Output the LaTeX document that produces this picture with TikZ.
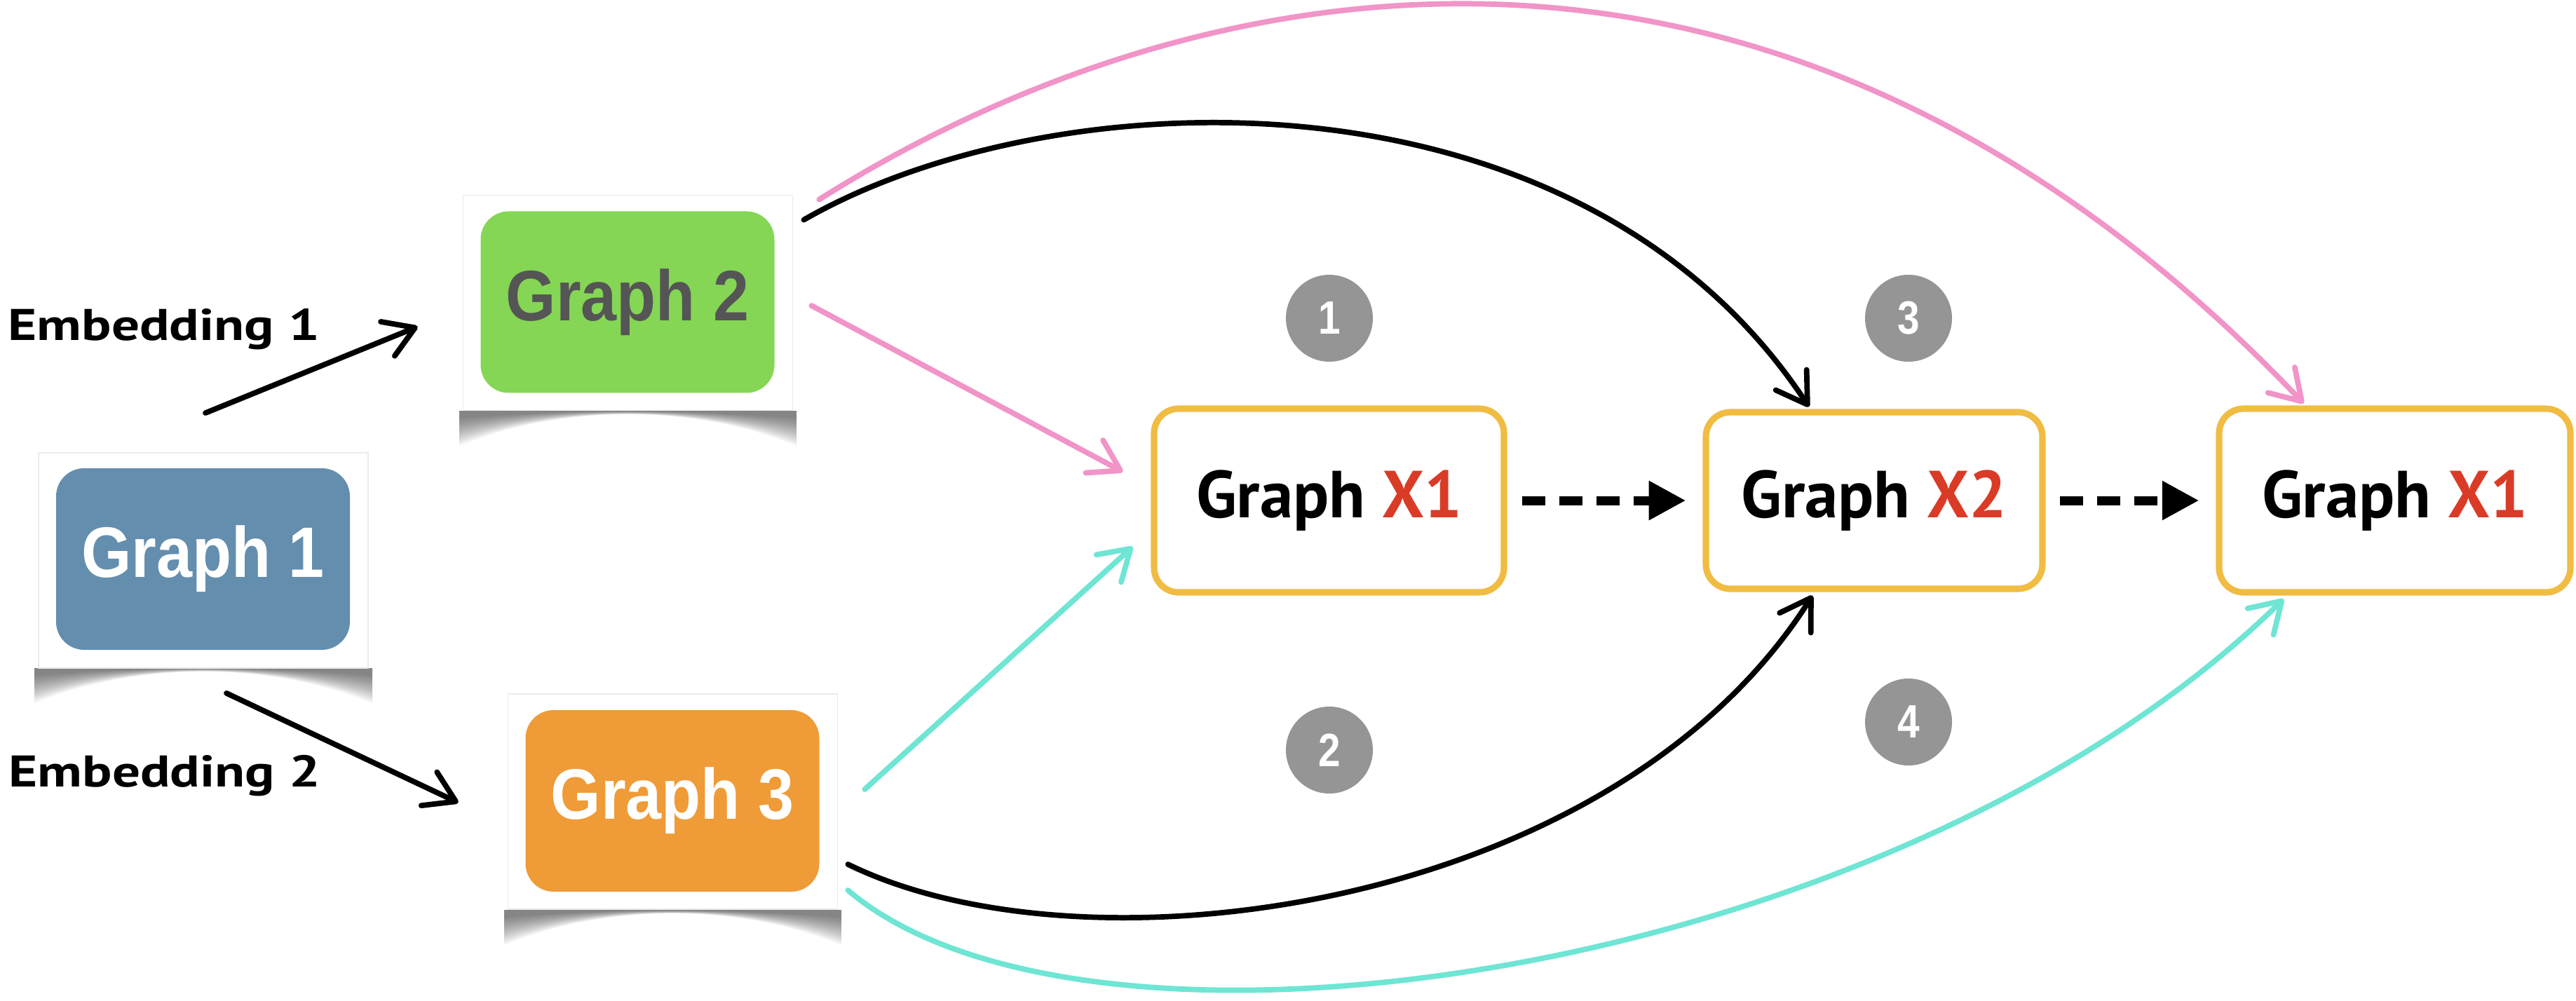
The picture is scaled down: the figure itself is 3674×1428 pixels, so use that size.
\documentclass[tikz,border=0pt]{standalone}
\usepackage{fontspec}
\setmainfont{Liberation Sans}
\newfontfamily\hand{PT Sans}
\usetikzlibrary{arrows.meta,calc}

\definecolor{gblue}{HTML}{648EAE}
\definecolor{ggreen}{HTML}{84D654}
\definecolor{gorange}{HTML}{EF9B38}
\definecolor{boxyellow}{HTML}{F0BC42}
\definecolor{xred}{HTML}{DA3B26}
\definecolor{lpink}{HTML}{F194C8}
\definecolor{lcyan}{HTML}{6FE5D4}
\definecolor{badge}{HTML}{959595}
\definecolor{gtext}{HTML}{555555}

\tikzset{
  card/.style={draw=black!8, line width=0.5pt, fill=white, minimum width=47mm,
    minimum height=30.7mm, inner sep=0pt},
  tile/.style={rounded corners=4mm, minimum width=41.9mm, minimum height=25.9mm,
    inner sep=0pt, font=\bfseries\fontsize{29}{32}\selectfont},
  stage/.style={draw=boxyellow, line width=2.6pt, rounded corners=3.5mm,
    minimum width=49.5mm, minimum height=25.8mm, inner sep=0pt,
    font=\hand\bfseries\fontsize{27}{30}\selectfont},
  badgecirc/.style={circle, fill=badge, minimum size=12.4mm, inner sep=0pt,
    text=white, font=\bfseries\fontsize{19}{21}\selectfont},
  handlabel/.style={anchor=base west, inner sep=0pt,
    font=\hand\bfseries\fontsize{18}{20}\selectfont},
  sketch/.style={line width=2.2pt, line cap=round,
    -{Straight Barb[length=12pt,width=15pt,round]}},
  flow/.style={line width=3.7pt, dash pattern=on 9.4pt off 5.7pt,
    -{Triangle[length=15pt,width=15pt]}},
}

% narrow setting for tile labels and badge digits
\newcommand{\narrow}[2]{\scalebox{#1}[1]{#2}}

% soft lifted-corner shadow under a card: left x, right x, bottom y
\newcommand{\liftshadow}[3]{%
  \foreach \i in {0,...,13}{%
    \pgfmathsetmacro{\d}{50-3*\i}%
    \pgfmathsetmacro{\m}{-10+0.6*\i}%
    \fill[black, opacity=0.045]
      (#1-6,#3) -- (#1-6,#3+\d)
      .. controls ({#1+0.3*(#2-#1)},#3+\m) and ({#2-0.3*(#2-#1)},#3+\m) .. (#2+6,#3+\d)
      -- (#2+6,#3) -- cycle;
  }%
}

\begin{document}
\begin{tikzpicture}[x=0.1mm, y=-0.1mm]
  \useasboundingbox (0,0) rectangle (3674,1428);
  \fill[white] (0,0) rectangle (3674,1428);

  % cards with their shadows
  \liftshadow{55}{525}{953}
  \liftshadow{661}{1130}{586}
  \liftshadow{725}{1194}{1298}

  \node[card] (card1) at (290,799.5) {};
  \node[card] (card2) at (895.5,432) {};
  \node[card] (card3) at (959.5,1143.5) {};

  \node[tile, fill=gblue, text=white] (g1) at (289.5,797.5) {\narrow{0.9}{Graph 1}};
  \node[tile, fill=ggreen, text=gtext] (g2) at (895,431) {\narrow{0.9}{Graph 2}};
  \node[tile, fill=gorange, text=white] (g3) at (959,1142.5) {\narrow{0.9}{Graph 3}};

  % embedding labels and arrows
  \node[handlabel] (e1) at (11,485) {\narrow{1.25}{Embedding 1}};
  \node[handlabel] (e2) at (12,1122) {\narrow{1.25}{Embedding 2}};

  \draw[sketch] ($(card1.north)+(3,-56)$) -- ($(card2.west)+(-64,34)$);
  \draw[sketch] ($(card1.south)+(33,35)$) -- ($(card3.west)+(-70,1.5)$);

  % stage boxes
  \node[stage, minimum width=49.9mm, minimum height=26.2mm] (s1) at (1895.5,714)
    {Graph \textcolor{xred}{X1}};
  \node[stage, minimum width=48mm, minimum height=25.2mm] (s2) at (2673,714)
    {Graph \textcolor{xred}{X2}};
  \node[stage, minimum width=50.1mm, minimum height=26.2mm] (s3) at (3415.5,714)
    {Graph \textcolor{xred}{X1}};

  \draw[flow, shorten <=2.1mm, shorten >=2.4mm] (s1.east) -- (s2.west);
  \draw[flow, shorten <=2.0mm, shorten >=2.4mm] (s2.east) -- (s3.west);

  % numbered badges
  \node[badgecirc] (b1) at (1896,454) {\narrow{0.85}{1}};
  \node[badgecirc] (b2) at (1896,1070) {\narrow{0.85}{2}};
  \node[badgecirc] (b3) at (2722,454) {\narrow{0.85}{3}};
  \node[badgecirc] (b4) at (2722,1030) {\narrow{0.85}{4}};

  % connectors from Graph 2
  \coordinate (p2s) at ($(card2.east)+(26,4)$);
  \coordinate (p2e) at ($(s1.west)+(-40,-41)$);
  \coordinate (k2s) at ($(card2.north east)+(15,36)$);
  \coordinate (k2e) at ($(s2.north)+(-93,-3)$);
  \coordinate (q2s) at ($(card2.north east)+(37,7)$);
  \coordinate (q2e) at ($(s3.north)+(-130,-3)$);

  \draw[sketch, lpink] (p2s) -- (p2e);
  \draw[sketch, black] (k2s) .. controls (1500,110) and (2250,80) .. (k2e);
  \draw[sketch, lpink] (q2s) .. controls (1650,-20) and (2500,-250) .. (q2e);

  % connectors from Graph 3
  \coordinate (c3s) at ($(card3.east)+(38,-17.5)$);
  \coordinate (c3e) at ($(s1.west)+(-26,66)$);
  \coordinate (k3s) at ($(card3.east)+(14,89.5)$);
  \coordinate (k3e) at ($(s2.south)+(-88,5)$);
  \coordinate (d3s) at ($(card3.east)+(14,126.5)$);
  \coordinate (d3e) at ($(s3.south)+(-158.5,5)$);

  \draw[sketch, lcyan] (c3s) -- (c3e);
  \draw[sketch, black] (k3s) .. controls (1550,1400) and (2300,1300) .. (k3e);
  \draw[sketch, lcyan] (d3s) .. controls (1550,1560) and (2700,1400) .. (d3e);
\end{tikzpicture}
\end{document}
